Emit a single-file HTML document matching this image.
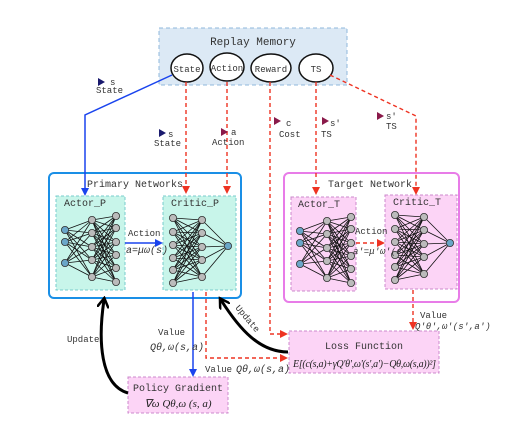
<!DOCTYPE html>
<html><head><meta charset="utf-8"><style>
html,body{margin:0;padding:0;background:#fff}
svg{display:block}
text{font-family:"Liberation Mono","DejaVu Sans Mono",monospace;fill:#333}
.s{font-family:"Liberation Serif",serif;font-style:italic;fill:#222}
</style></head><body>
<svg id="sv" width="524" height="423" viewBox="0 0 524 423" xmlns="http://www.w3.org/2000/svg">
<defs>
<marker id="ar" markerWidth="8" markerHeight="8" refX="6" refY="4" orient="auto" markerUnits="userSpaceOnUse"><path d="M0,0 L8,4 L0,8 z" fill="#ee3322"/></marker>
<marker id="ab" markerWidth="8" markerHeight="8" refX="6" refY="4" orient="auto" markerUnits="userSpaceOnUse"><path d="M0,0 L8,4 L0,8 z" fill="#1a44ee"/></marker>
<marker id="ak" markerWidth="12" markerHeight="12" refX="8" refY="6" orient="auto" markerUnits="userSpaceOnUse"><path d="M0,0 L10,6 L0,12" fill="none" stroke="#000" stroke-width="2.5"/></marker>
</defs>
<rect x="159" y="28" width="188" height="57" fill="#dce9f5" stroke="#8fb8dc" stroke-dasharray="4,3"/>
<text x="253" y="45" font-size="11" text-anchor="middle">Replay Memory</text>
<g fill="#fff" stroke="#111" stroke-width="1.5">
<ellipse cx="187" cy="68" rx="16" ry="14"/><ellipse cx="227" cy="67" rx="17" ry="14"/>
<ellipse cx="271" cy="68" rx="20" ry="14"/><ellipse cx="316" cy="68" rx="17" ry="14"/></g>
<g font-size="9" text-anchor="middle"><text x="187" y="72">State</text><text x="227" y="71">Action</text><text x="271" y="72">Reward</text><text x="316" y="72">TS</text></g>
<rect x="49" y="173" width="192" height="125" rx="5" fill="#fff" stroke="#1a8fe6" stroke-width="2"/>
<text x="135" y="187" font-size="10" text-anchor="middle">Primary Networks</text>
<rect x="56" y="196" width="69" height="94" fill="#c8f5ea" stroke="#7cc" stroke-dasharray="3,2"/>
<rect x="163" y="196" width="73" height="94" fill="#c8f5ea" stroke="#7cc" stroke-dasharray="3,2"/>
<text x="64" y="206" font-size="10">Actor_P</text><text x="171" y="206" font-size="10">Critic_P</text>
<rect x="284" y="173" width="175" height="129" rx="5" fill="#fff" stroke="#e87ce8" stroke-width="2"/>
<text x="370" y="187" font-size="10" text-anchor="middle">Target Network</text>
<rect x="291" y="197" width="65" height="94" fill="#fcd4f6" stroke="#c8c" stroke-dasharray="3,2"/>
<rect x="385" y="195" width="72" height="94" fill="#fcd4f6" stroke="#c8c" stroke-dasharray="3,2"/>
<text x="298" y="207" font-size="10">Actor_T</text><text x="393" y="205" font-size="10">Critic_T</text>
<g id="nets"></g>
<rect x="289" y="331" width="150" height="42" fill="#fcd4f6" stroke="#c8c" stroke-dasharray="3,2"/>
<text x="364" y="349" font-size="10" text-anchor="middle">Loss Function</text>
<text x="293" y="367" font-size="10" class="s" textLength="143">E[(c(s,a)+γQ'θ',ω'(s',a')−Qθ,ω(s,a))²]</text>
<rect x="128" y="377" width="100" height="36" fill="#fcd4f6" stroke="#c8c" stroke-dasharray="3,2"/>
<text x="178" y="391" font-size="10" text-anchor="middle">Policy Gradient</text>
<text x="178" y="407" font-size="11" class="s" text-anchor="middle">∇ω Qθ,ω (s, a)</text>
<polyline points="172,75 85,115 85,194" fill="none" stroke="#1a44ee" stroke-width="1.5" marker-end="url(#ab)"/>
<g fill="none" stroke="#ee3322" stroke-width="1.4" stroke-dasharray="4,3">
<line x1="186" y1="82" x2="186" y2="192" marker-end="url(#ar)"/>
<line x1="227" y1="82" x2="227" y2="192" marker-end="url(#ar)"/>
<polyline points="270,82 270,334 286,334" marker-end="url(#ar)"/>
<line x1="316" y1="82" x2="316" y2="193" marker-end="url(#ar)"/>
<polyline points="330,75 416,116 416,193" marker-end="url(#ar)"/>
<polyline points="206,292 206,358 286,358" marker-end="url(#ar)"/>
<line x1="413" y1="290" x2="413" y2="328" marker-end="url(#ar)"/>
<line x1="356" y1="243" x2="383" y2="243" marker-end="url(#ar)"/>
</g>
<line x1="125" y1="243" x2="161" y2="243" stroke="#1a44ee" stroke-width="1.5" marker-end="url(#ab)"/>
<line x1="193" y1="292" x2="193" y2="375" stroke="#1a44ee" stroke-width="1.5" marker-end="url(#ab)"/>
<path d="M288,352 C260,352 240,330 221,300" fill="none" stroke="#000" stroke-width="3" marker-end="url(#ak)"/>
<path d="M128,393 C100,385 98,340 104,300" fill="none" stroke="#000" stroke-width="3" marker-end="url(#ak)"/>
<g font-size="9">
<text x="110" y="85">s</text><text x="96" y="93">State</text>
<text x="168" y="137">s</text><text x="154" y="146">State</text>
<text x="231" y="135">a</text><text x="212" y="145">Action</text>
<text x="286" y="126">c</text><text x="279" y="137">Cost</text>
<text x="330" y="126">s'</text><text x="321" y="137">TS</text>
<text x="386" y="119">s'</text><text x="386" y="129">TS</text>
<text x="128" y="236">Action</text><text x="355" y="234">Action</text>
<text x="158" y="335">Value</text><text x="420" y="318">Value</text>
<text x="205" y="372">Value</text><text x="67" y="342">Update</text>
<text x="235" y="308" transform="rotate(50 235 308)">Update</text>
</g>
<g fill="#1a1a6e"><path d="M98,78 L105,82 L98,86z"/><path d="M159,129 L166,133 L159,137z"/></g>
<g fill="#8a1a4a"><path d="M221,128 L228,132 L221,136z"/><path d="M274,117 L281,121 L274,125z"/><path d="M322,117 L329,121 L322,125z"/><path d="M377,112 L384,116 L377,120z"/></g>
<g class="s" font-size="10">
<text x="126" y="253">a=μω(s)</text><text x="353" y="254" font-size="9">a'=μ'ω'(s')</text>
<text x="150" y="350">Qθ,ω(s,a)</text><text x="236" y="372">Qθ,ω(s,a)</text>
<text x="415" y="329" font-size="9">Q'θ',ω'(s',a')</text>
</g>
</svg>
<script>
var g=document.getElementById('nets'),NS='http://www.w3.org/2000/svg';
function net(cols,dx,dy){
 var L=[],C=[];
 cols.forEach(function(c,i){var pts=c[1].map(function(y){return[c[0]+dx,y+dy]});
  if(i>0)C[i-1].forEach(function(a){pts.forEach(function(b){L.push([a,b])})});C.push(pts)});
 L.forEach(function(l){var e=document.createElementNS(NS,'line');e.setAttribute('x1',l[0][0]);e.setAttribute('y1',l[0][1]);e.setAttribute('x2',l[1][0]);e.setAttribute('y2',l[1][1]);e.setAttribute('stroke','#111');e.setAttribute('stroke-width','0.8');g.appendChild(e)});
 C.forEach(function(c,i){c.forEach(function(p){var e=document.createElementNS(NS,'circle');e.setAttribute('cx',p[0]);e.setAttribute('cy',p[1]);e.setAttribute('r','3.6');
  var blue=(i==0&&c.length<=3)||(c.length==1);e.setAttribute('fill',blue?'#6aa6c8':'#bbb');e.setAttribute('stroke','#333');e.setAttribute('stroke-width','0.8');g.appendChild(e)})});
}
var actor=[[65,[230,242,263]],[92,[220,233,247,260,277]],[116,[216,228,242,255,268,282]]];
var critic=[[173,[218,232,245,258,270,283]],[202,[220,233,247,260,277]],[228,[246]]];
net(actor,0,0);net(critic,0,0);
net(actor,235,1);net(critic,222,-3);
</script>
</body></html>
